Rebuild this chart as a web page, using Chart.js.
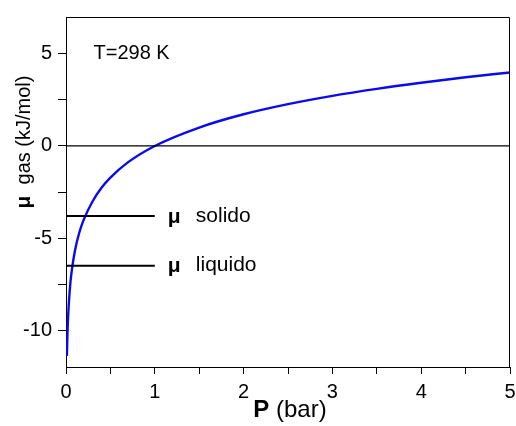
<!DOCTYPE html>
<html>
<head>
<meta charset="utf-8">
<script src="https://cdn.jsdelivr.net/npm/chart.js@4.4.1/dist/chart.umd.min.js"></script>
<style>
  html, body { margin: 0; padding: 0; background: #fff; }
  #wrap { width: 516px; height: 426px; }
</style>
</head>
<body>
<div id="wrap"><canvas id="chart" width="516" height="426"></canvas></div>
<script>
// Pressure (bar) and chemical potential of the gas (kJ/mol)
const pressure = [0.01, 0.015, 0.02, 0.03, 0.05, 0.07, 0.1, 0.15, 0.2, 0.3, 0.4, 0.5, 0.7, 1, 1.5, 2, 2.5, 3, 3.5, 4, 4.5, 5];
const muGas = [-11.4, -10.4, -9.7, -8.7, -7.4, -6.6, -5.7, -4.7, -4.0, -3.0, -2.27, -1.72, -0.88, 0, 1.0, 1.72, 2.27, 2.72, 3.1, 3.43, 3.73, 3.99];

// horizontal reference levels
const muSolido = -3.8;
const muLiquido = -6.5;
const levelRange = [0, 1];
const zeroRange = [0, 5];

const xTicks = [0, 1, 2, 3, 4, 5];
const yTicks = [-10, -5, 0, 5];

const ctx = document.getElementById("chart").getContext("2d");
const FONT = "'Liberation Sans', Arial, sans-serif";

const toPoints = (xs, ys) => xs.map((x, i) => ({ x: x, y: ys[i] }));

// frame, labels and axis titles
const decorPlugin = {
  id: "decor",
  afterDraw(chart) {
    const c = chart.ctx;
    const a = chart.chartArea;
    const xs = chart.scales.x;
    const ys = chart.scales.y;
    c.save();
    c.strokeStyle = "#000";
    c.lineWidth = 1;
    c.beginPath();
    c.moveTo(a.left, a.top + 0.5);
    c.lineTo(a.right - 0.5, a.top + 0.5);
    c.lineTo(a.right - 0.5, a.bottom);
    c.stroke();

    c.fillStyle = "#000";
    c.textBaseline = "middle";
    c.font = "20px " + FONT;
    c.fillText("T=298 K", xs.getPixelForValue(0.31), ys.getPixelForValue(5));

    // phase labels
    const lx = xs.getPixelForValue(1) + 13;
    c.font = "bold 21px " + FONT;
    c.fillText("\u03bc", lx, ys.getPixelForValue(muSolido) + 1);
    c.fillText("\u03bc", lx, ys.getPixelForValue(muLiquido) + 1);
    c.font = "21px " + FONT;
    c.fillText("solido", lx + 28, ys.getPixelForValue(muSolido));
    c.fillText("liquido", lx + 28, ys.getPixelForValue(muLiquido));

    // x title
    c.textBaseline = "alphabetic";
    c.font = "bold 24px " + FONT;
    const pW = c.measureText("P").width;
    c.font = "24px " + FONT;
    const restW = c.measureText(" (bar)").width;
    let sx = 290 - (pW + restW) / 2;
    c.font = "bold 24px " + FONT;
    c.fillText("P", sx, 417);
    c.font = "24px " + FONT;
    c.fillText(" (bar)", sx + pW, 417);

    // y title (rotated)
    c.translate(30, 142);
    c.rotate(-Math.PI / 2);
    c.font = "bold 21px " + FONT;
    const muW = c.measureText("\u03bc").width;
    c.font = "20px " + FONT;
    const gW = c.measureText("  gas (kJ/mol)").width;
    sx = -(muW + gW) / 2;
    c.font = "bold 21px " + FONT;
    c.fillText("\u03bc", sx, 0);
    c.font = "20px " + FONT;
    c.fillText("  gas (kJ/mol)", sx + muW, 0);
    c.restore();
  }
};

new Chart(ctx, {
  type: "line",
  data: {
    datasets: [
      {
        label: "zero",
        data: toPoints(zeroRange, [0, 0]),
        borderColor: "#000",
        borderWidth: 1.3,
        pointRadius: 0
      },
      {
        label: "solido",
        data: toPoints(levelRange, [muSolido, muSolido]),
        borderColor: "#000",
        borderWidth: 2,
        pointRadius: 0
      },
      {
        label: "liquido",
        data: toPoints(levelRange, [muLiquido, muLiquido]),
        borderColor: "#000",
        borderWidth: 2,
        pointRadius: 0
      },
      {
        label: "gas",
        data: toPoints(pressure, muGas),
        borderColor: "#0a0aee",
        borderWidth: 2.4,
        pointRadius: 0,
        cubicInterpolationMode: "monotone"
      }
    ]
  },
  options: {
    responsive: false,
    animation: false,
    events: [],
    layout: { padding: { top: 17, right: 6, left: 0, bottom: 0 } },
    plugins: {
      legend: { display: false },
      tooltip: { enabled: false }
    },
    scales: {
      x: {
        type: "linear",
        min: 0,
        max: 5,
        afterFit(scale) {
          scale.height = 59;
          scale.paddingLeft = 0;
          scale.paddingRight = 0;
        },
        afterBuildTicks(scale) {
          scale.ticks = [];
          for (let v = 0; v <= 5; v += 0.5) scale.ticks.push({ value: v });
        },
        grid: { drawOnChartArea: false, drawTicks: true, tickLength: 7, color: "#000" },
        border: { color: "#000", width: 1 },
        ticks: {
          color: "#000",
          font: { family: FONT, size: 20 },
          padding: 6,
          maxRotation: 0,
          autoSkip: false,
          callback: (v) => (xTicks.includes(v) ? String(v) : "")
        }
      },
      y: {
        type: "linear",
        min: -12,
        max: 7,
        afterFit(scale) {
          scale.width = 66;
          scale.paddingTop = 0;
          scale.paddingBottom = 0;
        },
        afterBuildTicks(scale) {
          scale.ticks = [];
          for (let v = -10; v <= 5; v += 2.5) scale.ticks.push({ value: v });
        },
        grid: { drawOnChartArea: false, drawTicks: true, tickLength: 8, color: "#000" },
        border: { color: "#000", width: 1 },
        ticks: {
          color: "#000",
          font: { family: FONT, size: 20 },
          padding: 6,
          autoSkip: false,
          callback: (v) => (yTicks.includes(v) ? String(v) : "")
        }
      }
    }
  },
  plugins: [decorPlugin]
});
</script>
</body>
</html>
